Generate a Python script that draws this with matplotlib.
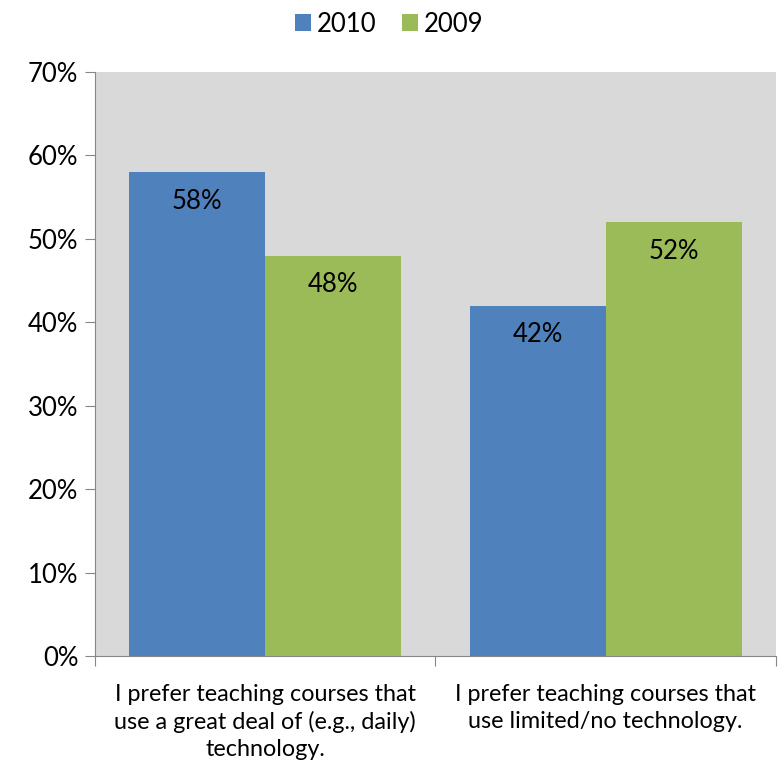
import matplotlib
matplotlib.use("Agg")
import matplotlib.pyplot as plt
import numpy as np

categories = ["I prefer teaching courses that\nuse a great deal of (e.g., daily)\ntechnology.",
              "I prefer teaching courses that\nuse limited/no technology."]
series_names = ["2010", "2009"]
values_2010 = [58, 42]
values_2009 = [48, 52]

plt.rcParams["font.family"] = ["Lato", "DejaVu Sans"]

fig = plt.figure(figsize=(7.79, 7.64), dpi=100)
ax = fig.add_axes([0.122, 0.141, 0.874, 0.765])
ax.set_facecolor("#d9d9d9")

x = np.arange(len(categories))
width = 0.4
b1 = ax.bar(x - width/2, values_2010, width, color="#4f81bd", label=series_names[0])
b2 = ax.bar(x + width/2, values_2009, width, color="#9bbb59", label=series_names[1])

for bars in (b1, b2):
    for rect in bars:
        h = rect.get_height()
        ax.annotate("%d%%" % h, (rect.get_x() + rect.get_width()/2, h),
                    xytext=(0, -12), textcoords="offset points",
                    ha="center", va="top", fontsize=18.5)

ax.set_xlim(-0.5, 1.5)
ax.set_ylim(0, 70)
ax.set_yticks(range(0, 71, 10))
ax.set_yticklabels(["%d%%" % v for v in range(0, 71, 10)], fontsize=18.5)
ax.set_xticks([-0.5, 0.5, 1.5])
ax.set_xticklabels([])
ax.set_xticks(x, minor=True)
ax.set_xticklabels(categories, minor=True, fontsize=16.8, linespacing=1.33)
ax.tick_params(axis="x", which="minor", length=0, pad=20)
ax.tick_params(axis="x", which="major", length=7, color="#868686")
ax.tick_params(axis="y", length=7, color="#868686", pad=5)

for s in ["top", "right"]:
    ax.spines[s].set_visible(False)
for s in ["left", "bottom"]:
    ax.spines[s].set_color("#868686")

fig.legend(loc="upper center", bbox_to_anchor=(0.5, 1.015), ncol=2, frameon=False,
           fontsize=18.5, handlelength=0.6, handleheight=0.6, handletextpad=0.25,
           columnspacing=1.0)

fig.savefig("out.png")
